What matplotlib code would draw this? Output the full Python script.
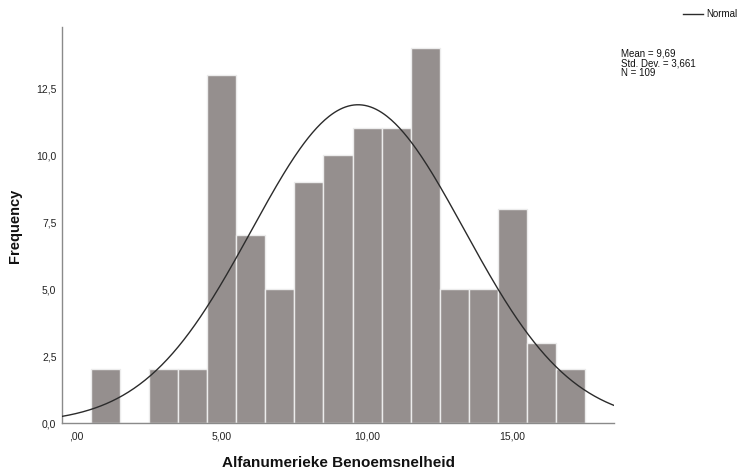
import numpy as np
import matplotlib
matplotlib.use("Agg")
import matplotlib.pyplot as plt

# Data (bin centres and frequencies)
bin_centers = [1, 2, 3, 4, 5, 6, 7, 8, 9, 10, 11, 12, 13, 14, 15, 16, 17]
frequencies = [2, 0, 2, 2, 13, 7, 5, 9, 10, 11, 11, 14, 5, 5, 8, 3, 2]
bin_width = 1.0
mean_val = 9.69
std_val = 3.661
n_val = 109
x_ticks = [0, 5, 10, 15]
x_tick_labels = [",00", "5,00", "10,00", "15,00"]
y_ticks = [0, 2.5, 5, 7.5, 10, 12.5]
y_tick_labels = ["0,0", "2,5", "5,0", "7,5", "10,0", "12,5"]
x_label = "Alfanumerieke Benoemsnelheid"
y_label = "Frequency"
legend_label = "Normal"
stats_text = "Mean = 9,69\nStd. Dev. = 3,661\nN = 109"

plt.rcParams['font.family'] = ['Liberation Sans', 'DejaVu Sans']

W, H = 739, 473
fig = plt.figure(figsize=(W / 100, H / 100), dpi=100)
ax = fig.add_axes([62 / W, (H - 423) / H, (614 - 62) / W, (423 - 27) / H])

xmin, xmax = -0.5, 18.5
ax.bar(bin_centers, frequencies, width=bin_width, color="#958f8e",
       edgecolor="#ececec", linewidth=1.0, zorder=2)

xs = np.linspace(xmin, xmax, 400)
pdf = n_val * bin_width / (std_val * np.sqrt(2 * np.pi)) * np.exp(-0.5 * ((xs - mean_val) / std_val) ** 2)
ax.plot(xs, pdf, color="#2b2b2b", linewidth=1.0, zorder=3)

ax.set_xlim(xmin, xmax)
ax.set_ylim(0, 14.78)
ax.set_xticks(x_ticks)
ax.set_xticklabels(x_tick_labels)
ax.set_yticks(y_ticks)
ax.set_yticklabels(y_tick_labels)
ax.tick_params(axis='both', length=0, labelsize=7.5, colors="#222222")
ax.tick_params(axis='x', pad=6)
ax.tick_params(axis='y', pad=4)

for s in ["top", "right"]:
    ax.spines[s].set_visible(False)
for s in ["left", "bottom"]:
    ax.spines[s].set_color("#8a8a8a")
    ax.spines[s].set_linewidth(1.0)

fig.text(339 / W, 1 - 463 / H, x_label, ha="center", va="center",
         fontsize=11, fontweight="bold", color="#111111")
fig.text(15 / W, 1 - 226 / H, y_label, ha="center", va="center",
         rotation=90, fontsize=10.5, fontweight="bold", color="#111111")

# Legend
fig.add_artist(plt.Line2D([683 / W, 703 / W], [1 - 14 / H, 1 - 14 / H],
                          color="#2b2b2b", linewidth=1.0))
fig.text(706 / W, 1 - 14 / H, legend_label, ha="left", va="center",
         fontsize=7, color="#111111")

fig.text(621 / W, 1 - 48.5 / H, stats_text, ha="left", va="top",
         fontsize=7, color="#111111", linespacing=1.0)

fig.savefig("out.png", dpi=100)
